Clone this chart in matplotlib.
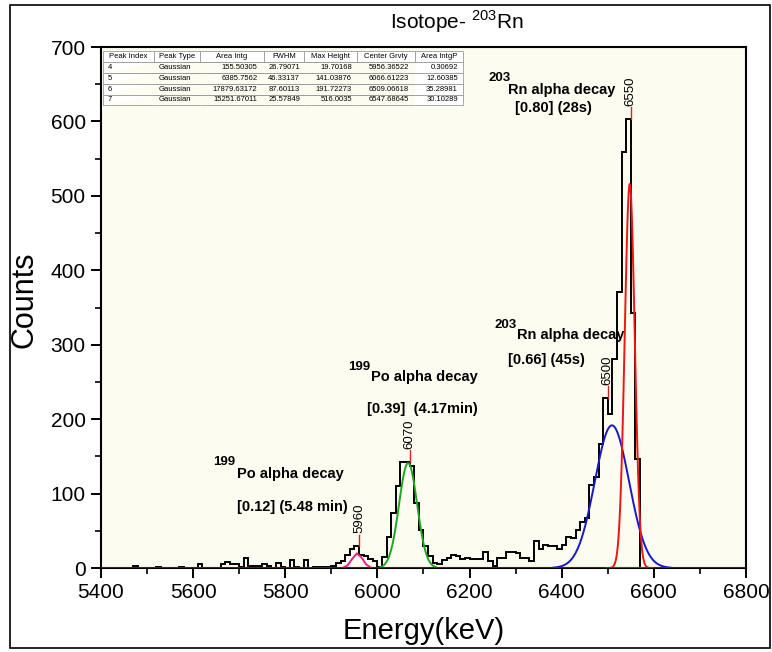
import numpy as np
import matplotlib.pyplot as plt
from matplotlib.patches import Rectangle
from matplotlib.ticker import MultipleLocator

plt.rcParams['font.family'] = ['Liberation Sans', 'DejaVu Sans']
plt.rcParams['mathtext.fontset'] = 'custom'
plt.rcParams['mathtext.rm'] = 'Liberation Sans'
plt.rcParams['mathtext.bf'] = 'Liberation Sans:bold'

# alpha spectrum, 10 keV bins from 5400 keV
bin_start = 5400
bin_width = 10
counts = [
    0, 0, 0, 0, 0, 0, 0, 3, 0, 0,             # 5400
    0, 0, 2, 0, 0, 0, 0, 2, 0, 0,             # 5500
    0, 6, 0, 0, 0, 0, 5, 8, 5, 5,             # 5600
    2, 14, 3, 3, 3, 5, 3, 0, 7, 1,            # 5700
    0, 11, 1, 0, 11, 0, 2, 1, 2, 2,           # 5800
    3, 7, 9, 18, 25, 29, 18, 16, 12, 10,      # 5900
    2, 15, 42, 74, 110, 142, 142, 137, 87, 51,  # 6000
    29, 16, 7, 5, 11, 14, 18, 16, 12, 13,     # 6100
    12, 12, 12, 22, 10, 3, 13, 13, 21, 22,    # 6200
    20, 13, 13, 9, 36, 25, 31, 29, 29, 25,    # 6300
    31, 42, 40, 51, 62, 67, 111, 122, 167, 228,  # 6400
    207, 281, 371, 559, 603, 342, 147, 0, 0, 0,  # 6500
    0, 0, 0, 0, 0, 0, 0, 0, 0, 0,             # 6600
    0, 0, 0, 0, 0, 0, 0, 0, 0, 0,             # 6700
]

# fit results (table in the plot)
col_labels = ['Peak Index', 'Peak Type', 'Area Intg', 'FWHM', 'Max Height', 'Center Grvty', 'Area IntgP']
peak_index = ['4', '5', '6', '7']
peak_type = ['Gaussian', 'Gaussian', 'Gaussian', 'Gaussian']
area_intg = [155.50305, 6385.7562, 17879.63172, 15251.67011]
fwhm = [26.79071, 46.33137, 87.60113, 25.57849]
max_height = [19.70168, 141.03876, 191.72273, 516.0035]
center = [5956.36522, 6066.61223, 6509.06618, 6547.68645]
area_p = [0.30692, 12.60385, 35.28981, 30.10289]
fit_colors = ['#e8208c', '#22a322', '#1818c8', '#ee1515']
fit_span = [1.15, 1.3, 1.45, 2.0]   # how far each curve is drawn, in FWHM
fit_step = [10, 1, 1, 1]

# peak markers
peak_labels = [5960, 6070, 6500, 6550]
peak_tops = [29, 142, 228, 603]

fig = plt.figure(figsize=(7.72, 6.52), dpi=100)
ax = fig.add_axes([0.1308, 0.1288, 0.8355, 0.7991])
ax.set_facecolor('#fdfcf0')

edges = bin_start + bin_width * np.arange(len(counts) + 1)
ax.stairs(counts, edges, baseline=0, color='black', lw=1.4, zorder=3)

for c, w, h, col, sp, st in zip(center, fwhm, max_height, fit_colors, fit_span, fit_step):
    sig = w / 2.3548
    xx = np.arange(c - sp * w, c + sp * w + 0.1, st)
    ax.plot(xx, h * np.exp(-0.5 * ((xx - c) / sig) ** 2), color=col, lw=1.4, zorder=4)

ax.axhline(0, color='#8b1a1a', lw=1.8, zorder=5)
ax.plot([center[3] - 1.5 * fwhm[3], center[3] + 1.2 * fwhm[3]], [0, 0], color='#1f6b1f', lw=1.8, zorder=6)

for e, top in zip(peak_labels, peak_tops):
    ax.plot([e, e], [top, top + 16], color='#e02020', lw=1, zorder=4)
    ax.text(e, top + 18, str(e), rotation=90, ha='center', va='bottom', fontsize=9.5)

# annotations: superscript, main text, second line
notes = [
    ('203', (6242, 659), 'Rn alpha decay', (6283, 642), '[0.80] (28s)', (6299, 618)),
    ('203', (6255, 327), 'Rn alpha decay', (6303, 313), '[0.66] (45s)', (6283, 280)),
    ('199', (5936, 270), 'Po alpha decay', (5986, 257), '[0.39]  (4.17min)', (5977, 214)),
    ('199', (5643, 142), 'Po alpha decay', (5695, 126), '[0.12] (5.48 min)', (5695, 82)),
]
for sup, sxy, main, mxy, sub, bxy in notes:
    ax.text(*sxy, sup, fontsize=9.5, fontweight='bold', va='center', ha='left')
    ax.text(*mxy, main, fontsize=10.5, fontweight='bold', va='center', ha='left')
    ax.text(*bxy, sub, fontsize=10.5, fontweight='bold', va='center', ha='left')

ax.set_xlim(5400, 6800)
ax.set_ylim(0, 700)
ax.xaxis.set_major_locator(MultipleLocator(200))
ax.xaxis.set_minor_locator(MultipleLocator(100))
ax.yaxis.set_major_locator(MultipleLocator(100))
ax.yaxis.set_minor_locator(MultipleLocator(50))
ax.tick_params(which='major', length=7, width=1.4, labelsize=15, pad=4)
ax.tick_params(which='minor', length=4, width=1.2)
for s in ax.spines.values():
    s.set_linewidth(1.5)

ax.set_xlabel('Energy(keV)', fontsize=21)
ax.set_ylabel('Counts', fontsize=22)
ax.xaxis.set_label_coords(0.5, -0.094)
ax.yaxis.set_label_coords(-0.096, 0.514)

# fit table
rows = [[i, t, str(a), str(f), str(m), str(c), str(p)]
        for i, t, a, f, m, c, p in zip(peak_index, peak_type, area_intg, fwhm, max_height, center, area_p)]
tbl = ax.table(cellText=rows, colLabels=col_labels, cellLoc='right', colLoc='center',
               bbox=[0.003, 0.888, 0.558, 0.104])
tbl.auto_set_font_size(False)
tbl.set_fontsize(5.5)
col_w = [51, 46, 63, 40, 53, 57, 48]
ncol = len(col_labels)
for (r, c), cell in tbl.get_celld().items():
    cell.set_width(col_w[c])
    cell.set_edgecolor('#9a9a9a')
    cell.set_linewidth(0.6)
    cell.set_facecolor('white')
    if r == 0:
        cell.visible_edges = 'closed'
    else:
        if c < 2:
            cell._loc = 'left'
            cell.get_text().set_horizontalalignment('left')
        if c == 0:
            cell.visible_edges = 'BTL'
        elif c == ncol - 1:
            cell.visible_edges = 'BTR'
        else:
            cell.visible_edges = 'BT'
tbl.zorder = 7

fig.text(0.592, 0.966, 'Isotope- $^{203}$Rn', fontsize=15, ha='center', va='center')
fig.patches.append(Rectangle((0.013, 0.006), 0.9845, 0.986, transform=fig.transFigure,
                             fill=False, edgecolor='black', lw=1.2))

fig.savefig('out.png', dpi=100)
